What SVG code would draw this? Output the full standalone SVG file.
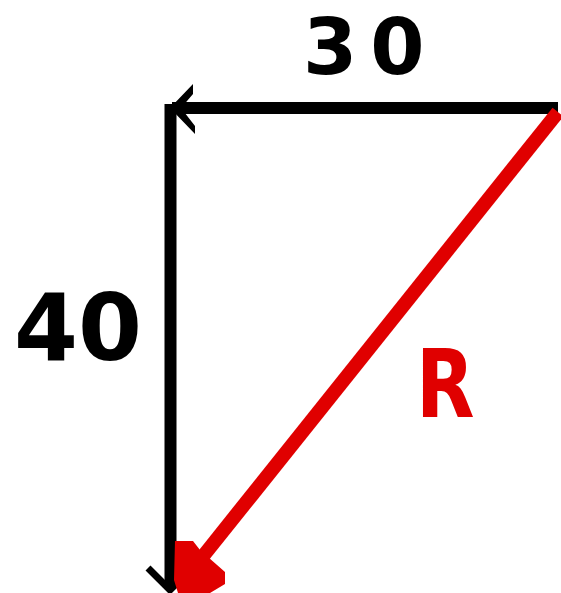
<svg xmlns="http://www.w3.org/2000/svg" width="561" height="593" viewBox="0 0 561 593">
<style>
.lbl{font-family:"DejaVu Sans",sans-serif;font-weight:bold}
.blk{stroke:#000;fill:none;stroke-width:12}
.red{stroke:#e00000;fill:none;stroke-width:14}
</style>
<rect width="561" height="593" fill="#fff"/>
<g id="connectors">
<line class="blk" x1="558" y1="108" x2="172" y2="108"/>
<path d="M170,108 L193,84 L193,94 L181,108 L195,126 L195,134 Z" fill="#000"/>
<line class="blk" x1="170.5" y1="104" x2="170.5" y2="586"/>
<path d="M148,568 L170,590 L192,568" stroke="#000" stroke-width="7" fill="none"/>
<line class="red" x1="558" y1="112" x2="200" y2="560"/>
<path d="M175,541 L193,541 L200,550 L225,572 L225,584 L210,593 L178,593 L174,580 Z" fill="#e00000"/>
</g>
<g id="label-30"><text class="lbl" x="303" y="74" font-size="78" letter-spacing="13">30</text></g>
<g id="label-40"><text class="lbl" x="14" y="360" font-size="92">40</text></g>
<g id="label-R"><text class="lbl" transform="translate(416,417) scale(0.8,1)" x="0" y="0" font-size="95" fill="#e00000">R</text></g>
</svg>
